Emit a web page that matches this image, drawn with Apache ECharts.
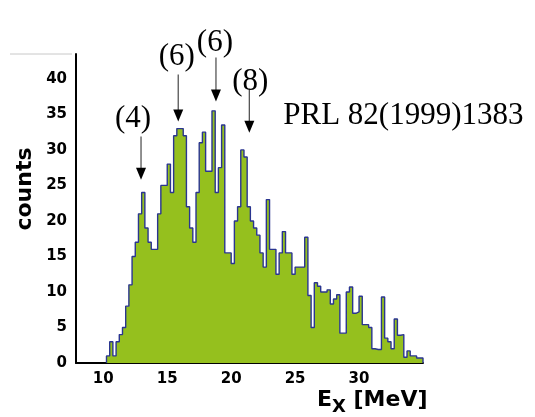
<!DOCTYPE html>
<html>
<head>
<meta charset="utf-8">
<script src="https://cdn.jsdelivr.net/npm/echarts@6/dist/echarts.min.js"></script>
<style>
html,body{margin:0;padding:0;background:#fff;}
#chart{width:535px;height:417px;}
</style>
</head>
<body>
<div id="chart"></div>
<script>
// ---- data ----
const binStart = 10.25;   // MeV, left edge of first bin
const binWidth = 0.25;    // MeV
const counts = [
  1, 3, 1, 3, 4, 5, 8, 11, 15, 17,
  21, 24, 19, 17, 16, 16, 21, 25, 25, 28,
  24, 32, 33, 33, 32, 22, 19, 17, 24, 31,
  32.5, 27, 27, 35.5, 24, 27.5, 33.5, 15.5, 15.5, 14,
  20, 22, 30, 29, 22, 20, 19, 18, 15.5, 13.5,
  23, 16, 16, 12.5, 15.5, 18.5, 15.5, 15.5, 12.5, 13.5,
  13.5, 13.5, 17.7, 9.5, 5, 11.3, 10.8, 10, 10, 10.3,
  8.3, 9, 9.6, 4.2, 4.2, 10, 10.7, 7, 7.2, 9.4,
  5.4, 5.4, 5, 2, 1.9, 1.9, 9.3, 3.5, 3, 2,
  6.2, 3.9, 4, 0.8, 1.7, 1, 1, 0.7, 0.7
];
const xTickValues = [10, 15, 20, 25, 30];
const yTickValues = [0, 5, 10, 15, 20, 25, 30, 35, 40];
const xAxisTitle = 'E';
const xAxisSub = 'X';
const xAxisUnit = ' [MeV]';
const yAxisTitle = 'counts';
const reference = 'PRL 82(1999)1383';
const peakLabels = ['(4)', '(6)', '(6)', '(8)'];
const peakArrowX = [12.95, 15.86, 18.81, 21.42];
const peakArrowTop = [31.9, 40.6, 43.0, 38.6];
const peakArrowTip = [25.8, 34.0, 36.8, 32.4];
const peakLabelX = [12.32, 15.74, 18.73, 21.5];
const peakLabelY = [34.4, 43.1, 45.1, 39.6];

// ---- build step outline ----
const stepData = [[binStart, 0]];
counts.forEach((c, i) => stepData.push([binStart + i * binWidth, c]));
const xEnd = binStart + counts.length * binWidth;
stepData.push([xEnd, counts[counts.length - 1]]);
stepData.push([xEnd, 0]);

const chart = echarts.init(document.getElementById('chart'), null, {renderer: 'canvas'});
const labelFont = '"DejaVu Sans", sans-serif';

chart.setOption({
  animation: false,
  backgroundColor: '#fff',
  grid: {left: 76, right: 112, top: 54, bottom: 54, containLabel: false},
  xAxis: {
    type: 'value', min: 7.865, max: 35,
    axisLine: {show: true, onZero: false, lineStyle: {color: '#000', width: 2}},
    axisTick: {show: false},
    splitLine: {show: false},
    axisLabel: {
      customValues: xTickValues,
      margin: 9, color: '#000', fontFamily: labelFont, fontWeight: 'bold', fontSize: 15
    }
  },
  yAxis: {
    type: 'value', min: 0, max: 43.5,
    axisLine: {show: true, lineStyle: {color: '#000', width: 2}},
    axisTick: {show: false},
    splitLine: {show: false},
    axisLabel: {
      customValues: yTickValues,
      margin: 9, color: '#000', fontFamily: labelFont, fontWeight: 'bold', fontSize: 15,
      verticalAlign: 'middle', padding: [0, 0, 20, 0]
    }
  },
  series: [{
    type: 'line',
    step: 'end',
    data: stepData,
    showSymbol: false,
    symbol: 'none',
    clip: true,
    lineStyle: {color: '#2a3590', width: 1.4},
    areaStyle: {color: '#95c01e', opacity: 1, origin: 'start'},
    z: 2
  }]
});

function px(x, y) { return chart.convertToPixel({gridIndex: 0}, [x, y]); }

const graphics = [];
// axis titles
graphics.push({
  type: 'text', left: 317, top: 389, z: 10,
  style: {
    text: '{a|' + xAxisTitle + '}{b|' + xAxisSub + '}{a|' + xAxisUnit + '}',
    rich: {
      a: {font: 'bold 22px "DejaVu Sans"', fill: '#000', verticalAlign: 'top'},
      b: {font: 'bold 18px "DejaVu Sans"', fill: '#000', verticalAlign: 'top', padding: [9, 0, 0, 0]}
    }
  }
});
graphics.push({
  type: 'text', x: 25, y: 189, rotation: Math.PI / 2, z: 10,
  style: {text: yAxisTitle, font: 'bold 22px "DejaVu Sans"', fill: '#000', align: 'center', verticalAlign: 'middle'}
});
// faint frame remnant top-left
graphics.push({type: 'line', shape: {x1: 10, y1: 54, x2: 72, y2: 54}, style: {stroke: '#c8c8c8', lineWidth: 1}});

// peak annotations
peakLabels.forEach((t, i) => {
  const top = px(peakArrowX[i], peakArrowTop[i]);
  const tip = px(peakArrowX[i], peakArrowTip[i]);
  graphics.push({type: 'line', z: 11, shape: {x1: top[0], y1: top[1], x2: tip[0], y2: tip[1] - 10},
    style: {stroke: '#555', lineWidth: 1.3}});
  graphics.push({type: 'polygon', z: 11, shape: {points: [[tip[0] - 5, tip[1] - 12], [tip[0] + 5, tip[1] - 12], [tip[0], tip[1]]]},
    style: {fill: '#000'}});
  const lp = px(peakLabelX[i], peakLabelY[i]);
  graphics.push({type: 'text', x: lp[0], y: lp[1], z: 11,
    style: {text: t, font: '31px "Liberation Serif"', fill: '#000', align: 'center', verticalAlign: 'middle'}});
});
const rp = px(24.07, 34.8);
graphics.push({type: 'text', x: rp[0], y: rp[1], z: 11,
  style: {text: reference, font: '31px "Liberation Serif"', fill: '#000', align: 'left', verticalAlign: 'middle'}});

chart.setOption({graphic: graphics});
</script>
</body>
</html>
